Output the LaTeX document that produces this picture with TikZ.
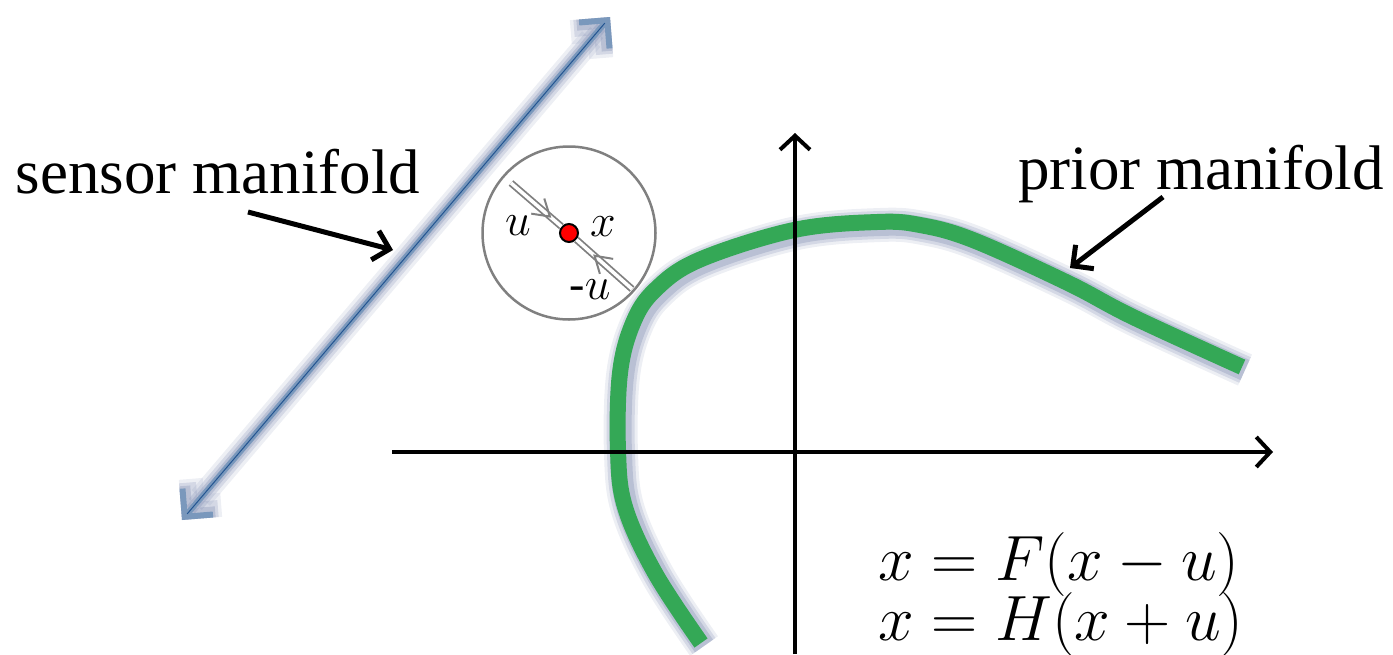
\documentclass[tikz,border=0pt]{standalone}
\usepackage{fix-cm}
\usepackage{fontspec}
\setmainfont{Liberation Serif}
\usetikzlibrary{arrows.meta,decorations.markings}

\definecolor{sensblue}{RGB}{122,152,188}
\definecolor{sensdark}{RGB}{35,85,145}
\definecolor{glowblue}{RGB}{135,147,182}
\definecolor{priorgreen}{RGB}{52,168,86}

\begin{document}
\begin{tikzpicture}[x=1pt,y=-1pt,
    axis/.style={line width=4pt, -{Straight Barb[length=14pt,width=30pt]}},
    pointer/.style={line width=5pt, -{Straight Barb[length=15pt,width=30pt]}},
    sens/.style={{Straight Barb[length=20pt,width=40pt]}-{Straight Barb[length=20pt,width=40pt]}},
    glow/.style={draw=glowblue, opacity=#1},
    bigtext/.style={font=\fontsize{63}{70}\selectfont, inner sep=0pt},
    mathtext/.style={font=\fontsize{46}{50}\selectfont, inner sep=0pt},
    eqtext/.style={font=\fontsize{64}{70}\selectfont, inner sep=0pt},
    inarrow/.style={draw=gray, line width=1.8pt, double=white, double distance=3.5pt},
    barb/.style={decoration={markings, mark=at position #1 with
        {\arrow[gray, line width=2pt]{Straight Barb[length=16pt,width=20pt]}}},
        postaction={decorate}}
  ]
    \useasboundingbox (0,0) rectangle (1393,654);

    % Sensor manifold (straight line with glow)
    \coordinate (sensA) at (182,520);
    \coordinate (sensB) at (610,17);
    \draw[glow=0.15, line width=24pt, sens] (sensA) -- (sensB);
    \draw[glow=0.25, line width=17pt, sens] (sensA) -- (sensB);
    \draw[glow=0.35, line width=11pt, sens] (sensA) -- (sensB);
    \draw[sensblue, line width=6pt, sens] (sensA) -- (sensB);
    \draw[sensdark, line width=1pt, shorten <=8pt, shorten >=8pt] (sensA) -- (sensB);

    % Prior manifold (curve with shadow)
    \foreach \w/\o in {34/0.15, 28/0.25, 22/0.35} {
      \draw[glow=\o, line width=\w pt, shift={(3,3)}]
        plot[smooth, tension=0.6] coordinates {(701,643) (655,573) (625,507) (618,450)
          (620,373) (633,323) (655,290) (699,260) (794,230) (877,222) (920,225)
          (973,240) (1068,283) (1133,317) (1242,367)};
    }
    \draw[priorgreen, line width=16pt]
      plot[smooth, tension=0.6] coordinates {(701,643) (655,573) (625,507) (618,450)
        (620,373) (633,323) (655,290) (699,260) (794,230) (877,222) (920,225)
        (973,240) (1068,283) (1133,317) (1242,367)};

    % Axes
    \coordinate (xaxL) at (392,452);
    \coordinate (xaxR) at (1273,452);
    \coordinate (yaxB) at (795,654);
    \coordinate (yaxT) at (795,133);
    \draw[axis] (xaxL) -- (xaxR);
    \draw[axis] (yaxB) -- (yaxT);

    % Zoomed view of the point x
    \node[circle, draw=gray, line width=2.5pt, minimum size=173pt] (lens) at (569,233) {};
    \node[circle, draw=black, fill=red, line width=2pt, minimum size=18pt, inner sep=0pt] (xpt) at (569,233) {};
    \coordinate (uin) at (511,183);
    \coordinate (uout) at (632,289);
    \draw[inarrow] (uin) -- (xpt);
    \draw[inarrow] (uout) -- (xpt);
    \path[barb=0.8] (uin) -- (xpt);
    \path[barb=0.7] (uout) -- (xpt);
    \node[mathtext] (ulbl) at (518,226) {$u$};
    \node[mathtext] (xlbl) at (603,227) {$x$};
    \node[mathtext] (mulbl) at (590,290) {-$u$};

    % Labels
    \node[bigtext, anchor=base] (senslbl) at (218,193) {sensor manifold};
    \coordinate (sensTip) at (393,250);
    \draw[pointer] ([xshift=30pt,yshift=-19pt]senslbl.base) -- (sensTip);

    \node[bigtext, anchor=base] (priorlbl) at (1201,189) {prior manifold};
    \coordinate (priorTip) at (1070,268);
    \draw[pointer] ([xshift=-38pt,yshift=-8pt]priorlbl.base) -- (priorTip);

    % Equations
    \node[eqtext, anchor=base west] (eqF) at (878,580) {$x = F(x - u)$};
    \node[eqtext, anchor=base west] (eqH) at (878,640) {$x = H(x + u)$};

\end{tikzpicture}
\end{document}
